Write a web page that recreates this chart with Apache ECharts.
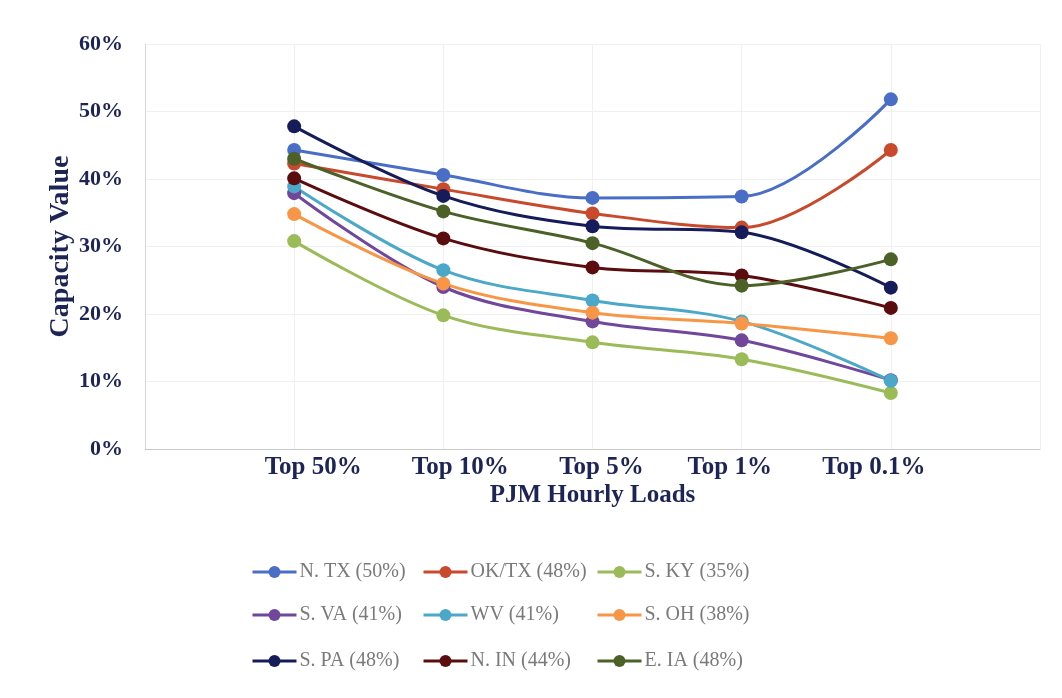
<!DOCTYPE html>
<html><head><meta charset="utf-8">
<script src="https://cdn.jsdelivr.net/npm/echarts@6/dist/echarts.min.js"></script>
<style>html,body{margin:0;padding:0;background:#fff}#c{width:1062px;height:698px}</style>
</head><body><div id="c"></div>
<script>
const categories = ['Top 50%', 'Top 10%', 'Top 5%', 'Top 1%', 'Top 0.1%'];
const yTicks = [0, 10, 20, 30, 40, 50, 60];
const seriesNames = ['N. TX (50%)', 'OK/TX (48%)', 'S. KY (35%)', 'S. VA (41%)', 'WV (41%)', 'S. OH (38%)', 'S. PA (48%)', 'N. IN (44%)', 'E. IA (48%)'];
const nTX  = [44.3, 40.6, 37.2, 37.4, 51.8];
const okTX = [42.3, 38.5, 34.9, 32.8, 44.3];
const sKY  = [30.8, 19.8, 15.8, 13.3, 8.3];
const sVA  = [37.9, 24.0, 18.9, 16.1, 10.2];
const wv   = [38.9, 26.5, 22.0, 18.9, 10.1];
const sOH  = [34.8, 24.5, 20.2, 18.6, 16.4];
const sPA  = [47.8, 37.5, 33.0, 32.1, 23.9];
const nIN  = [40.1, 31.2, 26.9, 25.7, 20.9];
const eIA  = [43.0, 35.2, 30.5, 24.2, 28.1];
const allData = [nTX, okTX, sKY, sVA, wv, sOH, sPA, nIN, eIA];
const colors = ['#4a6ec6', '#c8492b', '#9bbb59', '#71479b', '#4ba8c8', '#f79646', '#161c5a', '#5a0c0e', '#4b6128'];

const navy = '#1d2456';
const serif = '"Liberation Serif", "DejaVu Serif", serif';

const series = seriesNames.map((name, i) => ({
  name: name,
  type: 'line',
  smooth: 0.35,
  symbol: 'circle',
  symbolSize: 14,
  lineStyle: { width: 3, color: colors[i] },
  itemStyle: { color: colors[i] },
  data: allData[i].map((v, j) => [j + 1, v])
}));

const colX = [246, 417, 591];
const rowY = [557, 600, 646];
const legends = seriesNames.map((name, i) => ({
  data: [name],
  left: colX[i % 3],
  top: rowY[Math.floor(i / 3)],
  itemWidth: 44,
  itemHeight: 15,
  itemGap: 3,
  lineStyle: { width: 3 },
  textStyle: { fontFamily: serif, fontSize: 20, color: '#7a7a7a', padding: [0, 0, 0, -2] }
}));

// label shifts (layout only) to mimic the original's label placement
const labelShift = [19, 17, 9, -12, -17];
const labelFont = { fontFamily: serif, fontWeight: 'bold', fontSize: 25, color: navy };
const rich = {};
labelShift.forEach((s, i) => {
  rich['c' + i] = Object.assign({}, labelFont, {
    padding: s >= 0 ? [0, 0, 0, 2 * s] : [0, -2 * s, 0, 0]
  });
});

const chart = echarts.init(document.getElementById('c'));
chart.setOption({
  animation: false,
  color: colors,
  grid: { left: 145, right: 22, top: 44, bottom: 249 },
  legend: legends,
  xAxis: {
    type: 'value',
    min: 0, max: categories.length + 1, interval: 1,
    name: 'PJM Hourly Loads',
    nameLocation: 'middle',
    nameGap: 34,
    nameMoveOverlap: false,
    nameTextStyle: { fontFamily: serif, fontWeight: 'bold', fontSize: 25, color: navy },
    axisLine: { show: true, lineStyle: { color: '#c8c8c8', width: 1 } },
    axisTick: { show: false },
    axisLabel: Object.assign({}, labelFont, {
      margin: 6,
      rich: rich,
      formatter: v => (v >= 1 && v <= categories.length) ? ('{c' + (v - 1) + '|' + categories[v - 1] + '}') : ''
    }),
    splitLine: { show: true, lineStyle: { color: '#f0f0f0', width: 1 } }
  },
  yAxis: {
    type: 'value',
    min: yTicks[0], max: yTicks[yTicks.length - 1], interval: 10,
    name: 'Capacity Value',
    nameLocation: 'middle',
    nameGap: 70,
    nameMoveOverlap: false,
    nameTextStyle: { fontFamily: serif, fontWeight: 'bold', fontSize: 28, color: navy },
    axisLine: { show: true, lineStyle: { color: '#d6d6d6', width: 1 } },
    axisTick: { show: false },
    axisLabel: {
      margin: 22,
      fontFamily: serif, fontWeight: 'bold', fontSize: 22, color: navy,
      formatter: '{value}%'
    },
    splitLine: { show: true, lineStyle: { color: '#f0f0f0', width: 1 } }
  },
  series: series
});
</script>
</body></html>
